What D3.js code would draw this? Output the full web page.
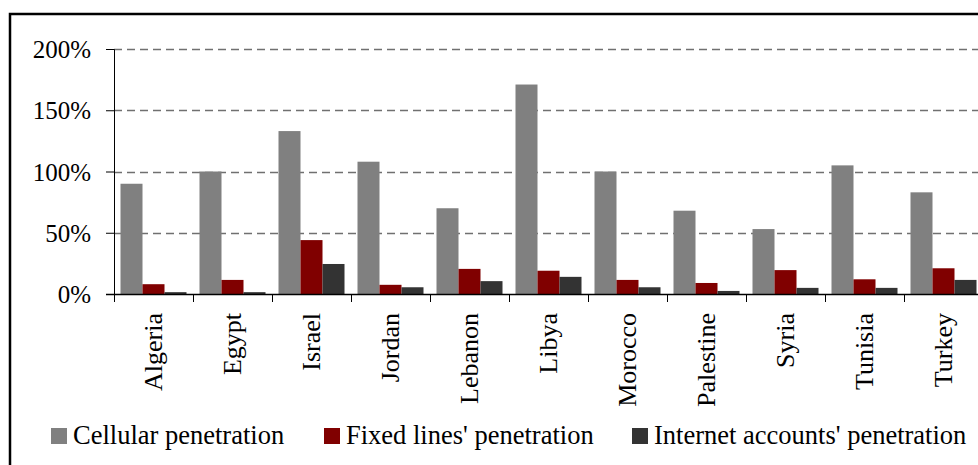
<!DOCTYPE html>
<html>
<head>
<meta charset="utf-8">
<script src="https://cdn.jsdelivr.net/npm/d3@7"></script>
<style>
  body { margin: 0; background: #fff; }
  svg text { font-family: "Liberation Serif", "Times New Roman", serif; fill: #000; }
</style>
</head>
<body>
<svg id="svg1" width="978" height="465"></svg>
<script>
"use strict";

// data (percent)
let countries = ["Algeria", "Egypt", "Israel", "Jordan", "Lebanon", "Libya", "Morocco", "Palestine", "Syria", "Tunisia", "Turkey"];
let cellular = [90, 100, 133, 108, 70, 171, 100, 68, 53, 105, 83];
let fixedLines = [8, 11.5, 44, 7.5, 20.5, 19, 11.5, 9, 19.5, 12, 21];
let internet = [1.5, 1.5, 24.5, 5.5, 10.5, 14, 5.5, 2.5, 5, 5, 11.5];
let yTicks = [0, 50, 100, 150, 200];

let subgroups = ["cellular", "fixed", "internet"];
let LABELS = ["Cellular penetration", "Fixed lines' penetration", "Internet accounts' penetration"];
let COLORS = ["#808080", "#800000", "#333333"];

let data = countries.map((c, i) => ({
    country: c,
    cellular: cellular[i],
    fixed: fixedLines[i],
    internet: internet[i]
}));

let svg = d3.select("#svg1");

// outer frame (runs past the right and bottom edges like the original)
svg.append("rect").attr("x", 10).attr("y", 14).attr("width", 1000).attr("height", 500)
    .attr("fill", "none").attr("stroke", "#000").attr("stroke-width", 2.5);

let marginLeft = 114, marginTop = 49;
let width = 869, height = 245;

let x = d3.scaleBand().domain(countries).range([0, width]).padding(0);
let y = d3.scaleLinear().domain([0, 200]).range([height, 0]);
let xSubgroup = d3.scaleBand().domain(subgroups).range([6.5, x.bandwidth() - 6.5]).padding(0);
let color = d3.scaleOrdinal().domain(subgroups).range(COLORS);

let g = svg.append("g").attr("transform", `translate(${marginLeft},${marginTop})`);

// dashed gridlines
g.selectAll(".grid").data(yTicks.filter(d => d > 0)).enter().append("line")
    .attr("x1", 0).attr("x2", width)
    .attr("y1", d => Math.round(y(d)) + 0.5).attr("y2", d => Math.round(y(d)) + 0.5)
    .attr("stroke", "#707070").attr("stroke-width", 1.3).attr("stroke-dasharray", "8,5");

// bars
g.selectAll(".bar").data(data).enter().append("g")
    .attr("transform", d => `translate(${x(d.country)},0)`)
    .selectAll("rect")
    .data(d => subgroups.map(key => ({ key: key, value: d[key] })))
    .enter().append("rect")
    .attr("x", d => xSubgroup(d.key))
    .attr("y", d => y(d.value))
    .attr("width", xSubgroup.bandwidth())
    .attr("height", d => height - y(d.value))
    .attr("fill", d => color(d.key));

// y axis
let yAxis = g.append("g").attr("class", "axis axis-y")
    .call(d3.axisLeft(y).tickValues(yTicks).tickSize(8).tickPadding(15).tickFormat(d => d + "%"));
yAxis.select(".domain").attr("stroke", "#000");
yAxis.selectAll(".tick line").attr("stroke", "#000");
yAxis.selectAll(".tick text").style("font-size", "25px").attr("dy", "0.34em");

// x axis: ticks at band boundaries
let xAxisG = g.append("g").attr("transform", `translate(0,${height})`);
xAxisG.append("line").attr("x1", -8).attr("x2", width).attr("y1", 0.5).attr("y2", 0.5)
    .attr("stroke", "#000").attr("stroke-width", 1.5);
xAxisG.selectAll(".xt").data(countries).enter().append("line")
    .attr("x1", d => Math.round(x(d)) + 0.5).attr("x2", d => Math.round(x(d)) + 0.5)
    .attr("y1", 0).attr("y2", 8).attr("stroke", "#000");
xAxisG.selectAll(".xl").data(countries).enter().append("text")
    .attr("transform", d => `translate(${x(d) + x.bandwidth() / 2},19) rotate(-90)`)
    .attr("text-anchor", "end").attr("dy", "0.34em")
    .style("font-size", "26px")
    .text(d => d);

// legend
let legX = [51, 324, 632];
let legend = svg.selectAll(".legend").data(subgroups).enter().append("g")
    .attr("transform", (d, i) => `translate(${legX[i]},428)`);
legend.append("rect").attr("width", 16).attr("height", 16).attr("fill", color);
legend.append("text").attr("x", 22).attr("y", 16).style("font-size", "26.5px")
    .text((d, i) => LABELS[i]);
</script>
</body>
</html>
